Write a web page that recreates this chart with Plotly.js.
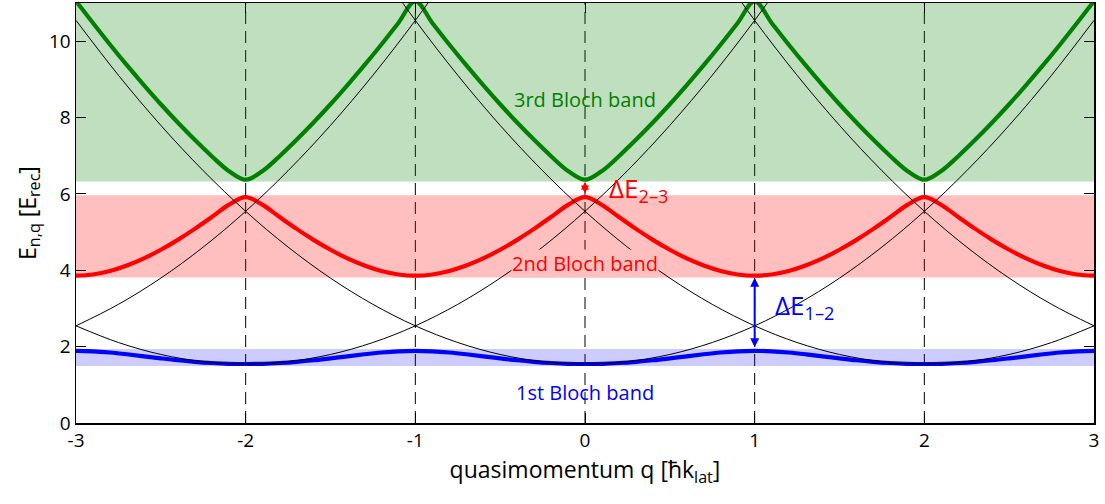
<!DOCTYPE html>
<html>
<head>
<meta charset="utf-8">
<script src="https://cdn.plot.ly/plotly-3.0.1.min.js"></script>
<style>html,body{margin:0;padding:0;background:#fff}</style>
</head>
<body>
<div id="chart" style="width:1105px;height:504px"></div>
<script>
// Quasimomentum sampling grid (units of ħk_lat)
const qGrid = [
  -3.0,-2.9,-2.8,-2.7,-2.6,-2.5,-2.4,-2.3,-2.2,-2.1,
  -2.0,-1.9,-1.8,-1.7,-1.6,-1.5,-1.4,-1.3,-1.2,-1.1,
  -1.0,-0.9,-0.8,-0.7,-0.6,-0.5,-0.4,-0.3,-0.2,-0.1,
   0.0, 0.1, 0.2, 0.3, 0.4, 0.5, 0.6, 0.7, 0.8, 0.9,
   1.0, 1.1, 1.2, 1.3, 1.4, 1.5, 1.6, 1.7, 1.8, 1.9,
   2.0, 2.1, 2.2, 2.3, 2.4, 2.5, 2.6, 2.7, 2.8, 2.9,
   3.0
];

// Bloch band energies E_n(q) in E_rec
const band1 = [
  1.890,1.878,1.846,1.800,1.747,1.693,1.643,1.602,1.571,1.551,
  1.545,1.551,1.571,1.602,1.643,1.693,1.747,1.800,1.846,1.878,
  1.890,1.878,1.846,1.800,1.747,1.693,1.643,1.602,1.571,1.551,
  1.545,1.551,1.571,1.602,1.643,1.693,1.747,1.800,1.846,1.878,
  1.890,1.878,1.846,1.800,1.747,1.693,1.643,1.602,1.571,1.551,
  1.545,1.551,1.571,1.602,1.643,1.693,1.747,1.800,1.846,1.878,
  1.890
];
const band2 = [
  3.859,3.890,3.980,4.123,4.311,4.537,4.797,5.084,5.394,5.711,
  5.917,5.711,5.394,5.084,4.797,4.537,4.311,4.123,3.980,3.890,
  3.859,3.890,3.980,4.123,4.311,4.537,4.797,5.084,5.394,5.711,
  5.917,5.711,5.394,5.084,4.797,4.537,4.311,4.123,3.980,3.890,
  3.859,3.890,3.980,4.123,4.311,4.537,4.797,5.084,5.394,5.711,
  5.917,5.711,5.394,5.084,4.797,4.537,4.311,4.123,3.980,3.890,
  3.859
];
const band3 = [
  11.048,10.478,9.914,9.371,8.850,8.348,7.870,7.416,6.988,6.601,
  6.372,6.601,6.988,7.416,7.870,8.348,8.850,9.371,9.914,10.478,
  11.048,10.478,9.914,9.371,8.850,8.348,7.870,7.416,6.988,6.601,
  6.372,6.601,6.988,7.416,7.870,8.348,8.850,9.371,9.914,10.478,
  11.048,10.478,9.914,9.371,8.850,8.348,7.870,7.416,6.988,6.601,
  6.372,6.601,6.988,7.416,7.870,8.348,8.850,9.371,9.914,10.478,
  11.048
];

// Free-particle parabolas, centred on the reciprocal lattice points
const freeQa = [-3,-2.75,-2.5,-2.25,-2,-1.75,-1.5,-1.25,-1,-0.75];
const freeEa = [2.545,3.108,3.795,4.608,5.545,6.608,7.795,9.108,10.545,12.108];
const freeQb = [-3,-2.75,-2.5,-2.25,-2,-1.75,-1.5,-1.25,-1,-0.75,-0.5,-0.25,0,0.25,0.5,0.75,1,1.25];
const freeEb = [2.545,2.108,1.795,1.608,1.545,1.608,1.795,2.108,2.545,3.108,3.795,4.608,5.545,6.608,7.795,9.108,10.545,12.108];
const freeQc = [-3,-2.75,-2.5,-2.25,-2,-1.75,-1.5,-1.25,-1,-0.75,-0.5,-0.25,0,0.25,0.5,0.75,1,1.25,1.5,1.75,2,2.25,2.5,2.75,3];
const freeEc = [10.545,9.108,7.795,6.608,5.545,4.608,3.795,3.108,2.545,2.108,1.795,1.608,1.545,1.608,1.795,2.108,2.545,3.108,3.795,4.608,5.545,6.608,7.795,9.108,10.545];
const freeQd = [-1.25,-1,-0.75,-0.5,-0.25,0,0.25,0.5,0.75,1,1.25,1.5,1.75,2,2.25,2.5,2.75,3];
const freeEd = [12.108,10.545,9.108,7.795,6.608,5.545,4.608,3.795,3.108,2.545,2.108,1.795,1.608,1.545,1.608,1.795,2.108,2.545];
const freeQe = [0.75,1,1.25,1.5,1.75,2,2.25,2.5,2.75,3];
const freeEe = [12.108,10.545,9.108,7.795,6.608,5.545,4.608,3.795,3.108,2.545];

// Zone-boundary / zone-centre markers and axis ticks
const dashQ = [-2,-1,0,1,2];
const xTicks = [-3,-2,-1,0,1,2,3];
const xTickText = ['-3','-2','-1','0','1','2','3'];
const yTicks = [0,2,4,6,8,10];

const GREEN = 'rgb(0,128,0)', RED = 'rgb(255,0,0)', BLUE = 'rgb(0,0,255)';
const FONT = 'Open Sans, sans-serif';

const traces = [];
const bandDefs = [[band3, GREEN], [band2, RED], [band1, BLUE]];
bandDefs.forEach(([e, c]) => traces.push({
  x: qGrid, y: e, type: 'scatter', mode: 'lines',
  line: {color: c, width: 4.2, shape: 'spline', smoothing: 1},
  hoverinfo: 'skip', showlegend: false
}));
[[freeQa, freeEa], [freeQb, freeEb], [freeQc, freeEc], [freeQd, freeEd], [freeQe, freeEe]]
  .forEach(([q, e]) => traces.push({
    x: q, y: e, type: 'scatter', mode: 'lines',
    line: {color: 'black', width: 1, shape: 'spline', smoothing: 1},
    hoverinfo: 'skip', showlegend: false
  }));

// Shaded energy ranges of each band
const pad = 0.05;
const shapes = [];
dashQ.forEach(q => shapes.push({
  type: 'line', xref: 'x', yref: 'paper', x0: q, x1: q, y0: 0, y1: 1,
  line: {color: 'black', width: 1, dash: '12px,7px'}, layer: 'below'
}));
[[band1, 'rgba(0,0,255,0.2)'], [band2, 'rgba(255,0,0,0.25)'], [band3, 'rgba(0,128,0,0.25)']]
  .forEach(([e, c]) => shapes.push({
    type: 'rect', xref: 'x', yref: 'y', x0: -3, x1: 3,
    y0: Math.min(...e) - pad, y1: Math.min(Math.max(...e) + pad, 11),
    fillcolor: c, line: {width: 0}, layer: 'below'
  }));

const i0 = qGrid.indexOf(0), i1 = qGrid.indexOf(1);
const annotations = [
  {x: 0, y: 8.47, text: '3rd Bloch band', showarrow: false, font: {family: FONT, size: 20, color: GREEN}},
  {x: 0, y: 4.17, text: '2nd Bloch band', showarrow: false, font: {family: FONT, size: 20, color: RED},
   bgcolor: 'rgb(255,191,191)', borderpad: 0},
  {x: 0, y: 0.79, text: '1st Bloch band', showarrow: false, font: {family: FONT, size: 20, color: BLUE}},
  {x: 0.13, y: 6.14, xanchor: 'left', text: 'ΔE<sub>2–3</sub>', showarrow: false, font: {family: FONT, size: 26, color: RED}},
  {x: 1.11, y: 3.07, xanchor: 'left', text: 'ΔE<sub>1–2</sub>', showarrow: false, font: {family: FONT, size: 26, color: BLUE}},
  // gap arrows between neighbouring bands
  {x: 0, y: band3[i0], ax: 0, ay: band2[i0], axref: 'x', ayref: 'y', text: '', showarrow: true,
   arrowside: 'end+start', arrowhead: 2, startarrowhead: 2, arrowsize: 0.8, startarrowsize: 0.8,
   arrowwidth: 2, arrowcolor: RED, standoff: 2, startstandoff: 2},
  {x: 1, y: band2[i1], ax: 1, ay: band1[i1], axref: 'x', ayref: 'y', text: '', showarrow: true,
   arrowside: 'end+start', arrowhead: 2, startarrowhead: 2, arrowsize: 0.9, startarrowsize: 0.9,
   arrowwidth: 2, arrowcolor: BLUE, standoff: 2, startstandoff: 2}
];

const axisCommon = {
  showline: true, linecolor: 'black', linewidth: 1.5, mirror: 'ticks',
  ticks: 'inside', ticklen: 10, tickwidth: 1, tickcolor: 'black',
  showgrid: false, zeroline: false,
  tickfont: {family: FONT, size: 19, color: 'black'}
};

const layout = {
  width: 1105, height: 504,
  margin: {l: 76, r: 11, t: 3, b: 81},
  paper_bgcolor: 'white', plot_bgcolor: 'white',
  showlegend: false,
  xaxis: Object.assign({}, axisCommon, {
    range: [-3, 3], tickmode: 'array', tickvals: xTicks, ticktext: xTickText,
    title: {text: 'quasimomentum q [ħk<sub>lat</sub>]', font: {family: FONT, size: 23, color: 'black'}, standoff: 0}
  }),
  yaxis: Object.assign({}, axisCommon, {
    range: [0, 11], tickmode: 'array', tickvals: yTicks,
    title: {text: 'E<sub>n,q</sub> [E<sub>rec</sub>]', font: {family: FONT, size: 23, color: 'black'}, standoff: 6}
  }),
  shapes: shapes,
  annotations: annotations
};

Plotly.newPlot('chart', traces, layout, {staticPlot: true, displayModeBar: false});
</script>
</body>
</html>
